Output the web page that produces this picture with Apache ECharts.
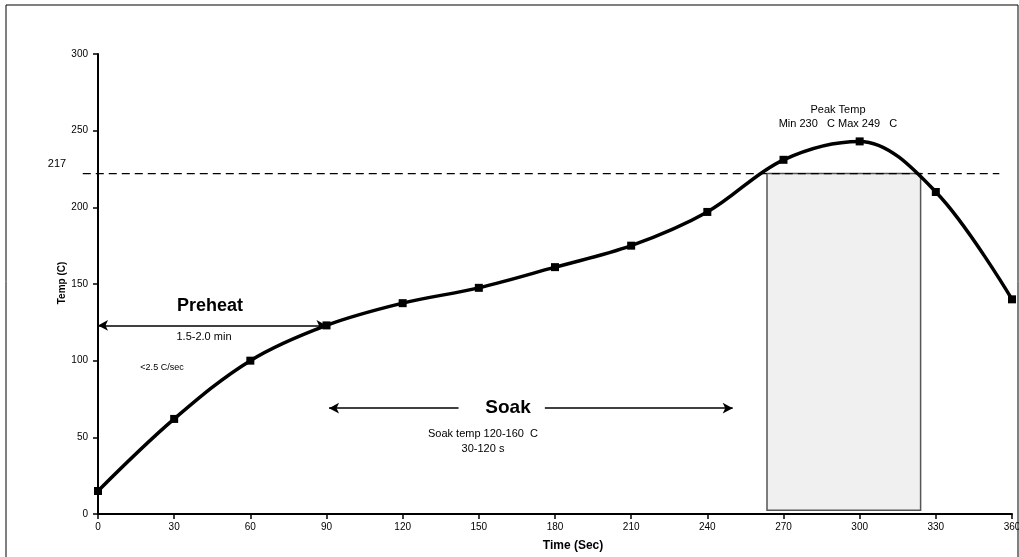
<!DOCTYPE html>
<html><head><meta charset="utf-8">
<script src="https://cdn.jsdelivr.net/npm/echarts@6/dist/echarts.min.js"></script>
<style>html,body{margin:0;padding:0;background:#fff;overflow:hidden}#c{width:1019px;height:557px}</style>
</head><body><div id="c"></div>
<script>
const times = [0, 30, 60, 90, 120, 150, 180, 210, 240, 270, 300, 330, 360];
const temps = [15, 62, 100, 123, 137.5, 147.5, 161, 175, 197, 231, 243, 210, 140];
const liquidus = 222;
const liquidusLabel = '217';
const liquidusSpan = [-6, 355];
const reflowStart = 263.5, reflowEnd = 324, reflowBottom = 2.5;
const preheatRange = [0, 90], preheatLevel = 123;
const soakLeft = [91, 142], soakRight = [176, 250], soakLevel = 69;
const xTicks = {min: 0, max: 360, interval: 30};
const yTicks = {min: 0, max: 300, interval: 50};

const F = 'Liberation Sans, Arial, sans-serif';
const chart = echarts.init(document.getElementById('c'));
const arrowLine = (a, b, syms) => ({
  symbol: syms, symbolSize: [8, 10],
  data: [[{coord: a}, {coord: b}]],
  lineStyle: {color: '#000', type: 'solid', width: 1.5},
  label: {show: false}
});
const txt = (x, y, text, font) => ({type: 'text', x, y, style: {text, font: font + ' ' + F, fill: '#000', textAlign: 'center', textVerticalAlign: 'middle'}});
chart.setOption({
  animation: false,
  grid: {left: 98, right: 7, top: 54, bottom: 43, outerBoundsMode: 'none', containLabel: false},
  xAxis: {
    type: 'value', min: xTicks.min, max: xTicks.max, interval: xTicks.interval,
    splitLine: {show: false},
    axisLine: {lineStyle: {color: '#000', width: 2}},
    axisTick: {length: 5, lineStyle: {color: '#000', width: 1.5}},
    axisLabel: {color: '#000', fontFamily: F, fontSize: 10, margin: 8},
    name: 'Time (Sec)', nameLocation: 'middle', nameGap: 26,
    nameTextStyle: {fontFamily: F, fontSize: 12, fontWeight: 'bold', color: '#000', padding: [0, 0, 0, 36]}
  },
  yAxis: {
    type: 'value', min: yTicks.min, max: yTicks.max, interval: yTicks.interval,
    splitLine: {show: false},
    axisLine: {show: true, lineStyle: {color: '#000', width: 2}},
    axisTick: {show: true, length: 5, lineStyle: {color: '#000', width: 1.5}},
    axisLabel: {color: '#000', fontFamily: F, fontSize: 10, margin: 10}
  },
  series: [
    {
      type: 'line', data: [], clip: false, silent: true,
      markArea: {
        silent: true,
        itemStyle: {color: '#f0f0f0', borderColor: '#555', borderWidth: 1.5},
        data: [[{coord: [reflowStart, liquidus]}, {coord: [reflowEnd, reflowBottom]}]]
      }
    },
    {type: 'line', data: [], clip: false, silent: true,
      markLine: arrowLine([preheatRange[0], preheatLevel], [preheatRange[1], preheatLevel], ['arrow', 'arrow'])},
    {type: 'line', data: [], clip: false, silent: true,
      markLine: arrowLine([soakLeft[0], soakLevel], [soakLeft[1], soakLevel], ['arrow', 'none'])},
    {type: 'line', data: [], clip: false, silent: true,
      markLine: arrowLine([soakRight[0], soakLevel], [soakRight[1], soakLevel], ['none', 'arrow'])},
    {
      type: 'line', smooth: 0.35,
      data: times.map((t, i) => [t, temps[i]]),
      symbol: 'rect', symbolSize: 8, showSymbol: true,
      itemStyle: {color: '#000'},
      lineStyle: {color: '#000', width: 3.5},
      clip: false, z: 5
    }
  ]
});
const p0 = chart.convertToPixel({gridIndex: 0}, [liquidusSpan[0], liquidus]);
const p1 = chart.convertToPixel({gridIndex: 0}, [liquidusSpan[1], liquidus]);
chart.setOption({
  graphic: [
    {type: 'rect', shape: {x: 6, y: 5, width: 1012, height: 600}, style: {fill: 'none', stroke: '#000', lineWidth: 1}, silent: true},
    {type: 'line', shape: {x1: p0[0], y1: p0[1], x2: p1[0], y2: p1[1]}, style: {stroke: '#000', lineWidth: 1.4, lineDash: [8, 5]}, z: 3, silent: true},
    txt(57, 164, liquidusLabel, '11px'),
    Object.assign(txt(62, 283, 'Temp (C)', 'bold 10px'), {rotation: Math.PI / 2}),
    txt(210, 306, 'Preheat', 'bold 18px'),
    txt(204, 337, '1.5-2.0 min', '11px'),
    txt(162, 368, '<2.5 C/sec', '9px'),
    txt(508, 408, 'Soak', 'bold 19px'),
    txt(483, 434, 'Soak temp 120-160  C', '11px'),
    txt(483, 449, '30-120 s', '11px'),
    txt(838, 110, 'Peak Temp', '11px'),
    txt(838, 124, 'Min 230   C Max 249   C', '11px'),
    txt(843, 208, 'Reflow Time=', '11px'),
    txt(843, 222, '60-80 Sec', '11px')
  ]
});
</script></body></html>
